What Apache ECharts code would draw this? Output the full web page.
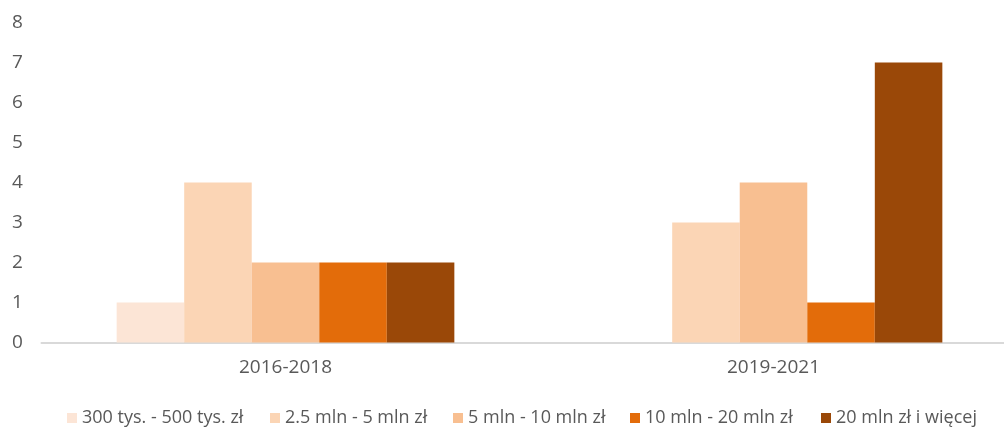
<!DOCTYPE html>
<html><head><meta charset="utf-8">
<script src="https://cdn.jsdelivr.net/npm/echarts@6/dist/echarts.min.js"></script>
<style>html,body{margin:0;padding:0;background:#fff}#c{width:1004px;height:427px}</style>
</head><body><div id="c"></div>
<script>
const categories = ['2016-2018', '2019-2021'];
const seriesNames = ['300 tys. - 500 tys. zł', '2.5 mln - 5 mln zł', '5 mln - 10 mln zł', '10 mln - 20 mln zł', '20 mln zł i więcej'];
const s1 = [1, 0];
const s2 = [4, 3];
const s3 = [2, 4];
const s4 = [2, 1];
const s5 = [2, 7];
const yTicks = [0, 1, 2, 3, 4, 5, 6, 7, 8];
const colors = ['#fce5d6', '#fbd5b5', '#f8bf91', '#e36c0a', '#9a4808'];
const values = [s1, s2, s3, s4, s5];
const legendLeft = [67, 270, 453, 630, 821];
const font = '"Open Sans", Lato, sans-serif';
const chart = echarts.init(document.getElementById('c'));
chart.setOption({
  animation: false,
  grid: { left: 41.5, top: 22.5, width: 976, height: 320, containLabel: false, outerBoundsMode: 'none' },
  legend: seriesNames.map((n, i) => ({
    left: legendLeft[i], top: 408, padding: 0,
    itemWidth: 10, itemHeight: 10, itemGap: 0, icon: 'rect',
    textStyle: { color: '#595959', fontSize: 18, lineHeight: 20, fontFamily: font },
    data: [n]
  })),
  xAxis: {
    type: 'category', data: categories,
    axisLine: { lineStyle: { color: '#d9d9d9', width: 2 } },
    axisTick: { show: false },
    axisLabel: { color: '#595959', fontSize: 19, fontFamily: font, margin: 16 }
  },
  yAxis: {
    type: 'value', min: yTicks[0], max: yTicks[yTicks.length - 1], interval: 1,
    splitLine: { show: false },
    axisLine: { show: false }, axisTick: { show: false },
    axisLabel: { color: '#595959', fontSize: 19, fontFamily: font, margin: 24, align: 'center' }
  },
  series: values.map((v, i) => ({
    name: seriesNames[i], type: 'bar', data: v,
    barGap: '0%', barCategoryGap: '30.8%',
    itemStyle: { color: colors[i] }
  }))
});
</script></body></html>
